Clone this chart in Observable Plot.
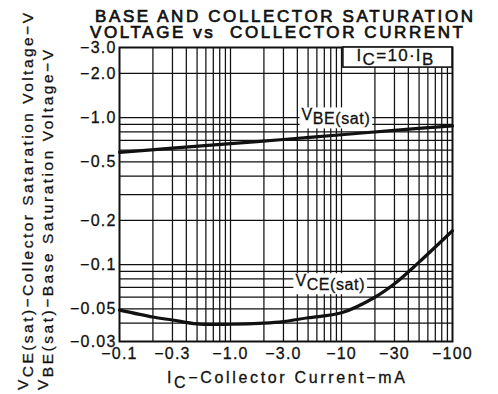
<!DOCTYPE html>
<html><head><meta charset="utf-8">
<script src="https://cdn.jsdelivr.net/npm/d3@7"></script>
<script src="https://cdn.jsdelivr.net/npm/@observablehq/plot@0.6"></script>
<style>
body{margin:0;background:#fff;}
#chart{width:498px;height:394px;overflow:hidden;}
svg{font-family:"Liberation Sans",Arial,Helvetica,sans-serif;}
</style></head><body><div id="chart"></div>
<script>
// ---- data (absolute values; the chart labels them as negative) ----
const vbeCurrent = [0.1, 0.3, 1, 3, 10, 30, 100];
const vbeSat     = [0.58, 0.62, 0.665, 0.71, 0.765, 0.82, 0.88];
const vceCurrent = [0.1, 0.2, 0.3, 0.5, 1, 2, 3, 5, 10, 20, 30, 50, 100];
const vceSat     = [0.049, 0.044, 0.042, 0.0395, 0.0393, 0.040, 0.041, 0.0435, 0.047, 0.060, 0.074, 0.104, 0.17];

const xTicks      = [0.1, 0.3, 1, 3, 10, 30, 100];
const xTickLabels = ["−0.1", "−0.3", "−1.0", "−3.0", "−10", "−30", "−100"];
const yTicks      = [3, 2, 1, 0.5, 0.2, 0.1, 0.05, 0.03];
const yTickLabels = ["−3.0", "−2.0", "−1.0", "−0.5", "−0.2", "−0.1", "−0.05", "−0.03"];
const xGrid = [0.2,0.3,0.4,0.5,0.6,0.7,0.8,0.9,1,2,3,4,5,6,7,8,9,10,20,30,40,50,60,70,80,90];
const yGrid = [0.04,0.05,0.06,0.07,0.08,0.09,0.1,0.2,0.3,0.4,0.5,0.6,0.7,0.8,0.9,1,2];

const titleLines = ["BASE AND COLLECTOR SATURATION", "VOLTAGE vs  COLLECTOR CURRENT"];
const xTitle = [["I", false], ["C", true], ["−Collector Current−mA", false]];
const yTitle1 = [["V", false], ["CE(sat)", true], ["−Collector Sataration Voltage−V", true]];
const yTitle2 = [["V", false], ["BE(sat)", true], ["−Base Saturation Voltage−V", true]];
const curveLabels = [
  {parts: [["V", false], ["BE(sat)", true]], x: 9.0, y: 0.98},
  {parts: [["V", false], ["CE(sat)", true]], x: 8.0, y: 0.073}
];
const condition = {parts: [["I", false], ["C", true], ["=10·I", false], ["B", true]], x: 31, y: 2.56, boxX: 10.4, boxY: 2.19};

(function draw() {
const vbeRows = vbeCurrent.map((x, i) => ({x, y: vbeSat[i]}));
const vceRows = vceCurrent.map((x, i) => ({x, y: vceSat[i]}));
const xTickRows = xTicks.map((v, i) => ({v, label: xTickLabels[i]}));
const yTickRows = yTicks.map((v, i) => ({v, label: yTickLabels[i]}));

const ink = "#111";
const plot = Plot.plot({
  width: 498, height: 394,
  marginLeft: 119, marginRight: 46, marginTop: 47, marginBottom: 53,
  style: {background: "#fff", color: ink},
  x: {type: "log", domain: [0.1, 100], axis: null},
  y: {type: "log", domain: [0.03, 3], axis: null},
  marks: [
    Plot.ruleX(xGrid, {stroke: ink, strokeWidth: 1.25}),
    Plot.ruleY(yGrid, {stroke: ink, strokeWidth: 1.25}),
    Plot.frame({stroke: ink, strokeWidth: 2}),
    Plot.line(vbeRows, {x: "x", y: "y", curve: "catmull-rom", stroke: ink, strokeWidth: 3.2}),
    Plot.line(vceRows, {x: "x", y: "y", curve: "catmull-rom", stroke: ink, strokeWidth: 3.2}),
    Plot.text(xTickRows, {x: "v", text: "label", frameAnchor: "bottom", lineAnchor: "top",
      dy: 6, fontSize: 16, fill: ink}),
    Plot.text(yTickRows, {y: "v", text: "label", frameAnchor: "left", textAnchor: "end",
      dx: -3, fontSize: 16, fill: ink})
  ]
});
document.getElementById("chart").appendChild(plot);

const svg = d3.select(plot);
const sx = plot.scale("x"), sy = plot.scale("y");
svg.selectAll("text").style("letter-spacing", "1.2px")
  .attr("stroke", ink).attr("stroke-width", 0.3);

function addParts(textSel, parts, size, shift) {
  let cur = 0;
  parts.forEach(([t, sub]) => {
    const want = sub ? shift : 0;
    textSel.append("tspan").attr("dy", want - cur).attr("font-size", size).text(t);
    cur = want;
  });
}

// title
const tl = [[95, 22, 378], [90, 38, 373]];
titleLines.forEach((t, i) => {
  svg.append("text").attr("x", tl[i][0]).attr("y", tl[i][1]).attr("text-anchor", "start")
    .attr("textLength", tl[i][2]).attr("lengthAdjust", "spacing")
    .attr("font-size", 17).attr("fill", ink).attr("stroke", ink).attr("stroke-width", 0.7).text(t);
});

// x-axis title
const xt = svg.append("text").attr("x", 167).attr("y", 383).attr("text-anchor", "start")
  .attr("textLength", 238).attr("lengthAdjust", "spacing").attr("fill", ink)
  .attr("stroke", ink).attr("stroke-width", 0.3);
addParts(xt, xTitle, 16, 5);

// y-axis titles (rotated)
[[yTitle1, 28, 377], [yTitle2, 48, 340]].forEach(([parts, bx, len]) => {
  const t = svg.append("text").attr("transform", `translate(${bx},390) rotate(-90)`)
    .attr("text-anchor", "start")
    .attr("textLength", len).attr("lengthAdjust", "spacing").attr("fill", ink)
    .attr("stroke", ink).attr("stroke-width", 0.3);
  addParts(t, parts, 15.5, 4.5);
});

// condition box
const bx0 = sx.apply(condition.boxX), by1 = sy.apply(condition.boxY);
const xRight = sx.apply(100), yTop = sy.apply(3);
svg.append("rect").attr("x", bx0).attr("y", yTop).attr("width", xRight - bx0).attr("height", by1 - yTop)
  .attr("fill", "#fff").attr("stroke", ink).attr("stroke-width", 1.6);
const ct = svg.append("text").attr("x", sx.apply(condition.x)).attr("y", sy.apply(condition.y) + 4)
  .attr("text-anchor", "middle").attr("fill", ink).style("letter-spacing", "1.3px")
  .attr("stroke", ink).attr("stroke-width", 0.3);
addParts(ct, condition.parts, 17, 4);

// curve labels with white background
curveLabels.forEach(l => {
  const g = svg.append("g");
  const t = g.append("text").attr("x", sx.apply(l.x)).attr("y", sy.apply(l.y) + 2)
    .attr("text-anchor", "middle").attr("fill", ink).style("letter-spacing", "0.6px")
    .attr("stroke", ink).attr("stroke-width", 0.3);
  addParts(t, l.parts, 16, 4);
  const b = t.node().getBBox();
  g.insert("rect", "text").attr("x", b.x - 2).attr("y", b.y + 1).attr("width", b.width + 4)
    .attr("height", b.height).attr("fill", "#fff");
});
})();
</script></body></html>
